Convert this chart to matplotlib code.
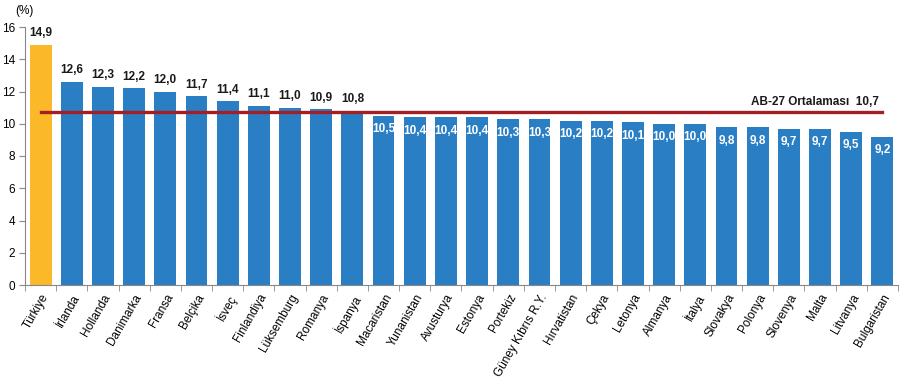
import matplotlib
matplotlib.use("Agg")
import matplotlib.pyplot as plt

countries = ["Türkiye", "İrlanda", "Hollanda", "Danimarka", "Fransa", "Belçika", "İsveç",
             "Finlandiya", "Lüksemburg", "Romanya", "İspanya", "Macaristan", "Yunanistan",
             "Avusturya", "Estonya", "Portekiz", "Güney Kıbrıs R.Y.", "Hırvatistan", "Çekya",
             "Letonya", "Almanya", "İtalya", "Slovakya", "Polonya", "Slovenya", "Malta",
             "Litvanya", "Bulgaristan"]
values = [14.9, 12.6, 12.3, 12.2, 12.0, 11.7, 11.4, 11.1, 11.0, 10.9, 10.8, 10.5, 10.4,
          10.4, 10.4, 10.3, 10.3, 10.2, 10.2, 10.1, 10.0, 10.0, 9.8, 9.8, 9.7, 9.7, 9.5, 9.2]
eu_avg = 10.7
eu_label = "AB-27 Ortalaması  10,7"
yticks = [0, 2, 4, 6, 8, 10, 12, 14, 16]

plt.rcParams['font.family'] = ['Liberation Sans', 'DejaVu Sans']

fig = plt.figure(figsize=(9.04, 3.83), dpi=100)
ax = fig.add_axes([25/904, 1-285/383, 873/904, 258/383])

x = list(range(len(countries)))
colors = ['#FBB829' if c == "Türkiye" else '#2A7EC3' for c in countries]
bars = ax.bar(x, values, width=0.7, color=colors, zorder=2)

ax.plot([x[0], x[-1]], [eu_avg, eu_avg], color='#A31F24', lw=2.4, zorder=3)
ax.text(x[-1] - 0.1, eu_avg + 0.25, eu_label, ha='right', va='bottom',
        fontsize=8.5, fontweight='bold', color='#1a1a1a', zorder=4)

for xi, v in zip(x, values):
    s = f"{v:.1f}".replace('.', ',')
    if v > eu_avg:
        ax.annotate(s, (xi, v), xytext=(0, 4), textcoords='offset points',
                    ha='center', va='bottom', fontsize=8.5, fontweight='bold', color='#1a1a1a')
    else:
        ax.annotate(s, (xi, v), xytext=(0, -5.5), textcoords='offset points',
                    ha='center', va='top', fontsize=8.5, fontweight='bold', color='white', zorder=5)

ax.set_xlim(-0.5, len(countries) - 0.5)
ax.set_ylim(0, 16)
ax.set_yticks(yticks)
ax.set_yticklabels([str(t) for t in yticks], fontsize=8.5)
ax.set_xticks(x)
ax.set_xticklabels(countries, rotation=60, ha='right', rotation_mode='anchor', fontsize=8.5)
ax.tick_params(axis='x', length=0, pad=5)
ax.set_xticks([i - 0.5 for i in range(len(countries) + 1)], minor=True)
ax.tick_params(axis='x', which='minor', length=4, color='#888888')
ax.tick_params(axis='y', length=4, color='#888888', pad=3)

for sp in ['top', 'right']:
    ax.spines[sp].set_visible(False)
for sp in ['left', 'bottom']:
    ax.spines[sp].set_color('#888888')
    ax.spines[sp].set_linewidth(0.8)

fig.text(24/904, 1-11/383, "(%)", ha='center', va='center', fontsize=8.5)

fig.savefig("out.png", dpi=100)
